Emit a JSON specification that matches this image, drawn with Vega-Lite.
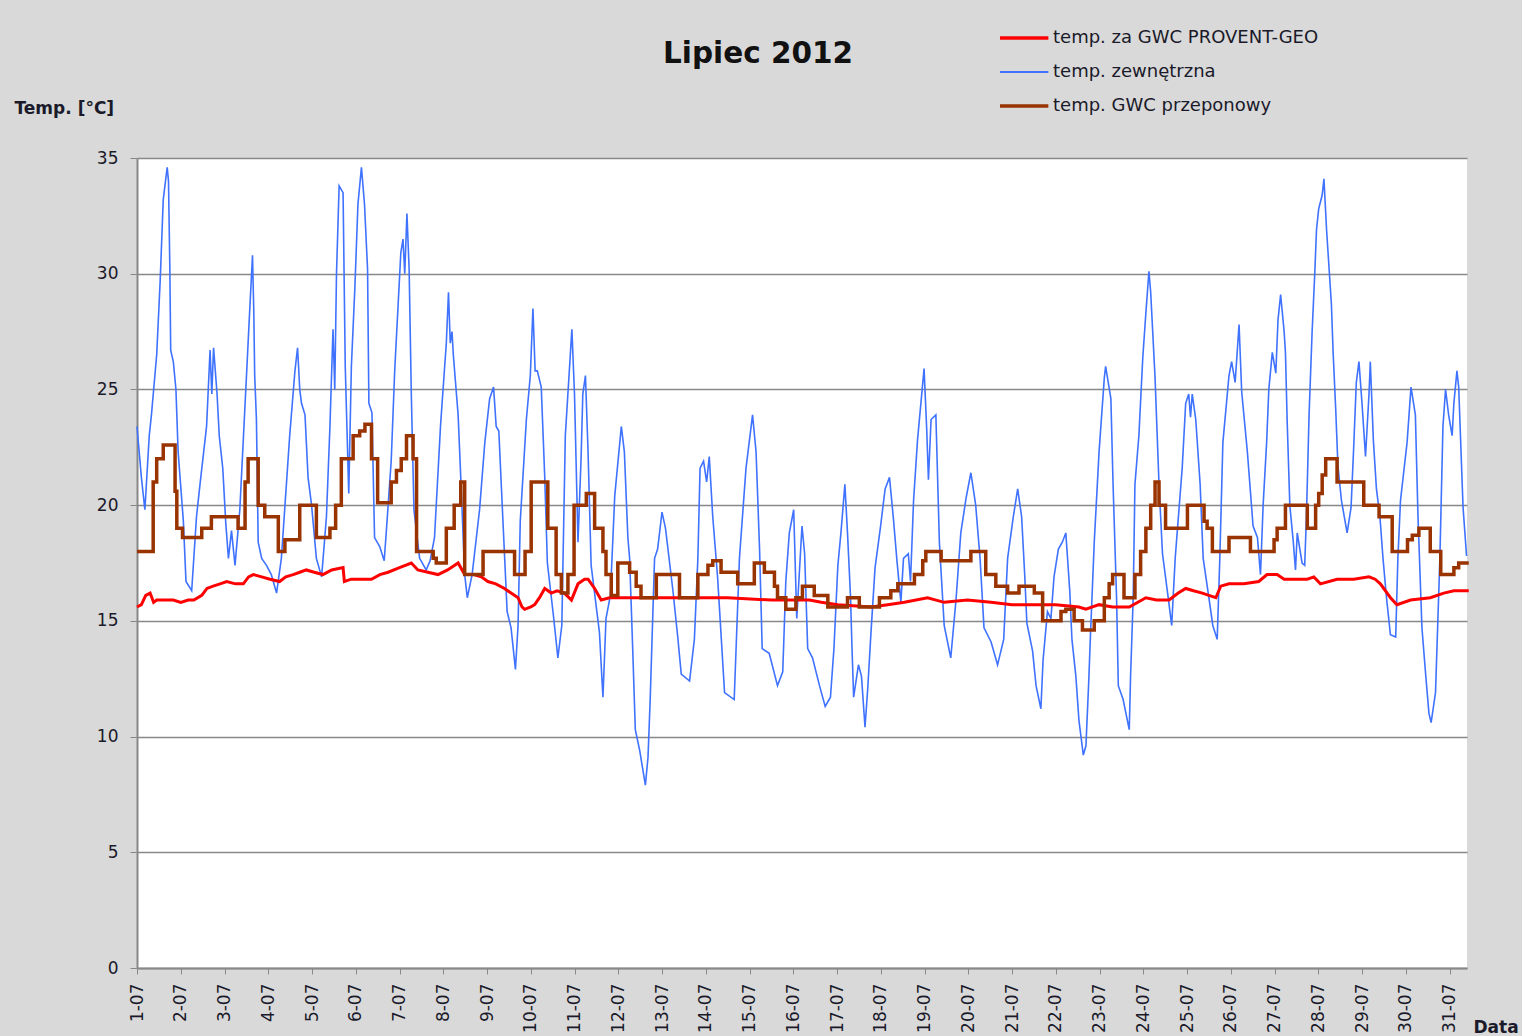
{
  "$schema": "https://vega.github.io/schema/vega-lite/v6.json",
  "autosize": "none",
  "width": 1330,
  "height": 810,
  "padding": {"left": 137, "top": 158, "right": 55, "bottom": 68},
  "background": "#d9d9d9",
  "config": {
    "view": {"fill": "white", "stroke": null},
    "font": "DejaVu Sans"
  },
  "title": {
    "text": "Lipiec 2012",
    "fontSize": 29.5,
    "fontWeight": "bold",
    "font": "DejaVu Sans",
    "color": "#111111",
    "anchor": "middle",
    "frame": "group",
    "dx": -44,
    "offset": -41
  },
  "datasets": {
    "blue": [
      {"d":1.00,"t":23.4},{"d":1.10,"t":21.2},{"d":1.18,"t":19.8},{"d":1.28,"t":23.0},{"d":1.33,"t":23.9},{"d":1.45,"t":26.5},{"d":1.53,"t":29.7},{"d":1.60,"t":33.2},{"d":1.69,"t":34.6},{"d":1.72,"t":34.0},{"d":1.75,"t":30.3},{"d":1.77,"t":26.7},{"d":1.83,"t":26.2},{"d":1.89,"t":25.0},{"d":1.94,"t":22.3},
      {"d":2.06,"t":19.3},{"d":2.12,"t":16.7},{"d":2.25,"t":16.3},{"d":2.36,"t":19.5},{"d":2.44,"t":20.9},{"d":2.59,"t":23.4},{"d":2.67,"t":26.7},{"d":2.71,"t":24.8},{"d":2.75,"t":26.8},{"d":2.83,"t":24.8},{"d":2.88,"t":23.0},{"d":2.96,"t":21.6},
      {"d":3.03,"t":19.2},{"d":3.09,"t":17.7},{"d":3.16,"t":18.9},{"d":3.24,"t":17.4},{"d":3.35,"t":19.8},{"d":3.50,"t":25.5},{"d":3.56,"t":27.8},{"d":3.64,"t":30.8},{"d":3.67,"t":28.3},{"d":3.69,"t":25.6},{"d":3.73,"t":23.7},{"d":3.77,"t":18.4},{"d":3.85,"t":17.7},{"d":3.96,"t":17.4},
      {"d":4.07,"t":17.0},{"d":4.19,"t":16.2},{"d":4.30,"t":17.7},{"d":4.49,"t":23.0},{"d":4.61,"t":25.8},{"d":4.67,"t":26.8},{"d":4.72,"t":25.0},{"d":4.76,"t":24.4},{"d":4.84,"t":23.9},{"d":4.91,"t":21.2},{"d":4.99,"t":20.0},
      {"d":5.10,"t":17.7},{"d":5.22,"t":16.9},{"d":5.33,"t":19.5},{"d":5.41,"t":23.4},{"d":5.48,"t":27.6},{"d":5.52,"t":25.0},{"d":5.56,"t":30.0},{"d":5.62,"t":33.8},{"d":5.71,"t":33.5},{"d":5.76,"t":26.0},{"d":5.84,"t":20.5},{"d":5.90,"t":26.0},{"d":5.98,"t":29.4},
      {"d":6.05,"t":33.0},{"d":6.13,"t":34.6},{"d":6.20,"t":33.0},{"d":6.27,"t":30.2},{"d":6.30,"t":24.4},{"d":6.37,"t":24.0},{"d":6.43,"t":18.6},{"d":6.55,"t":18.2},{"d":6.65,"t":17.6},{"d":6.70,"t":18.9},{"d":6.81,"t":21.9},{"d":6.89,"t":25.8},
      {"d":7.03,"t":30.9},{"d":7.08,"t":31.5},{"d":7.12,"t":30.0},{"d":7.17,"t":32.6},{"d":7.22,"t":30.2},{"d":7.27,"t":24.8},{"d":7.33,"t":19.8},{"d":7.46,"t":17.7},{"d":7.61,"t":17.2},{"d":7.70,"t":17.6},{"d":7.80,"t":18.6},{"d":7.94,"t":23.5},
      {"d":8.07,"t":27.0},{"d":8.12,"t":29.2},{"d":8.16,"t":27.0},{"d":8.20,"t":27.5},{"d":8.23,"t":26.5},{"d":8.34,"t":23.9},{"d":8.40,"t":21.2},{"d":8.49,"t":17.0},{"d":8.55,"t":16.0},{"d":8.66,"t":17.0},{"d":8.83,"t":19.8},{"d":8.95,"t":22.7},
      {"d":9.06,"t":24.6},{"d":9.15,"t":25.1},{"d":9.21,"t":23.4},{"d":9.27,"t":23.2},{"d":9.36,"t":19.5},{"d":9.46,"t":15.4},{"d":9.55,"t":14.7},{"d":9.65,"t":12.9},{"d":9.71,"t":14.8},{"d":9.76,"t":19.3},{"d":9.90,"t":23.7},{"d":9.99,"t":25.6},
      {"d":10.05,"t":28.5},{"d":10.10,"t":25.8},{"d":10.15,"t":25.8},{"d":10.24,"t":25.1},{"d":10.32,"t":21.2},{"d":10.38,"t":17.5},{"d":10.52,"t":15.2},{"d":10.62,"t":13.4},{"d":10.71,"t":14.8},{"d":10.79,"t":23.0},{"d":10.94,"t":27.6},
      {"d":11.00,"t":24.8},{"d":11.08,"t":18.4},{"d":11.15,"t":22.0},{"d":11.19,"t":24.8},{"d":11.25,"t":25.6},{"d":11.31,"t":22.3},{"d":11.38,"t":17.4},{"d":11.57,"t":14.5},{"d":11.65,"t":11.7},{"d":11.72,"t":15.1},{"d":11.82,"t":16.1},{"d":11.92,"t":20.4},
      {"d":12.07,"t":23.4},{"d":12.14,"t":22.3},{"d":12.22,"t":18.6},{"d":12.26,"t":17.7},{"d":12.33,"t":13.8},{"d":12.39,"t":10.3},{"d":12.49,"t":9.4},{"d":12.62,"t":7.9},{"d":12.68,"t":9.1},{"d":12.73,"t":11.6},{"d":12.83,"t":17.7},{"d":12.90,"t":18.1},
      {"d":13.00,"t":19.7},{"d":13.08,"t":19.0},{"d":13.25,"t":16.3},{"d":13.36,"t":14.3},{"d":13.44,"t":12.7},{"d":13.63,"t":12.4},{"d":13.74,"t":14.2},{"d":13.82,"t":17.7},{"d":13.87,"t":21.6},{"d":13.95,"t":21.9},
      {"d":14.02,"t":21.0},{"d":14.08,"t":22.1},{"d":14.16,"t":19.5},{"d":14.27,"t":16.9},{"d":14.43,"t":11.9},{"d":14.65,"t":11.6},{"d":14.77,"t":17.7},{"d":14.92,"t":21.6},
      {"d":15.07,"t":23.9},{"d":15.15,"t":22.3},{"d":15.23,"t":18.1},{"d":15.29,"t":13.8},{"d":15.45,"t":13.6},{"d":15.64,"t":12.2},{"d":15.76,"t":12.8},{"d":15.83,"t":16.7},{"d":15.91,"t":18.8},
      {"d":16.01,"t":19.8},{"d":16.08,"t":15.1},{"d":16.20,"t":19.1},{"d":16.26,"t":17.9},{"d":16.33,"t":13.8},{"d":16.44,"t":13.4},{"d":16.60,"t":12.2},{"d":16.73,"t":11.3},{"d":16.85,"t":11.7},{"d":16.93,"t":13.8},
      {"d":17.02,"t":17.4},{"d":17.09,"t":18.8},{"d":17.18,"t":20.9},{"d":17.24,"t":18.8},{"d":17.31,"t":16.0},{"d":17.34,"t":14.0},{"d":17.38,"t":11.7},{"d":17.49,"t":13.1},{"d":17.56,"t":12.6},{"d":17.64,"t":10.4},{"d":17.70,"t":12.0},{"d":17.78,"t":14.6},{"d":17.87,"t":17.3},{"d":17.99,"t":19.0},
      {"d":18.10,"t":20.7},{"d":18.20,"t":21.2},{"d":18.29,"t":19.4},{"d":18.37,"t":17.6},{"d":18.46,"t":15.8},{"d":18.52,"t":17.7},{"d":18.63,"t":17.9},{"d":18.68,"t":16.7},{"d":18.75,"t":20.2},{"d":18.84,"t":22.8},{"d":18.99,"t":25.9},
      {"d":19.05,"t":23.3},{"d":19.09,"t":21.1},{"d":19.15,"t":23.7},{"d":19.26,"t":23.9},{"d":19.34,"t":18.4},{"d":19.45,"t":14.8},{"d":19.60,"t":13.4},{"d":19.72,"t":15.9},{"d":19.83,"t":18.8},{"d":19.95,"t":20.3},
      {"d":20.06,"t":21.4},{"d":20.17,"t":20.0},{"d":20.27,"t":17.7},{"d":20.36,"t":14.7},{"d":20.52,"t":14.1},{"d":20.67,"t":13.1},{"d":20.81,"t":14.2},{"d":20.90,"t":17.7},
      {"d":21.03,"t":19.5},{"d":21.13,"t":20.7},{"d":21.22,"t":19.5},{"d":21.29,"t":17.0},{"d":21.34,"t":14.9},{"d":21.47,"t":13.7},{"d":21.55,"t":12.2},{"d":21.66,"t":11.2},{"d":21.71,"t":13.3},{"d":21.81,"t":15.4},{"d":21.89,"t":15.1},{"d":21.96,"t":16.9},
      {"d":22.06,"t":18.1},{"d":22.15,"t":18.4},{"d":22.23,"t":18.8},{"d":22.32,"t":16.3},{"d":22.37,"t":14.2},{"d":22.46,"t":12.6},{"d":22.53,"t":10.7},{"d":22.63,"t":9.2},{"d":22.69,"t":9.6},{"d":22.75,"t":12.2},{"d":22.80,"t":14.7},{"d":22.88,"t":18.4},{"d":22.99,"t":22.3},
      {"d":23.11,"t":25.5},{"d":23.14,"t":26.0},{"d":23.26,"t":24.6},{"d":23.31,"t":20.9},{"d":23.39,"t":16.0},{"d":23.43,"t":12.2},{"d":23.54,"t":11.6},{"d":23.68,"t":10.3},{"d":23.71,"t":12.6},{"d":23.77,"t":16.0},{"d":23.81,"t":20.9},{"d":23.90,"t":23.0},{"d":23.99,"t":26.4},
      {"d":24.06,"t":28.3},{"d":24.13,"t":30.1},{"d":24.17,"t":29.2},{"d":24.27,"t":25.5},{"d":24.36,"t":20.9},{"d":24.44,"t":17.9},{"d":24.57,"t":16.0},{"d":24.65,"t":14.8},{"d":24.73,"t":17.7},{"d":24.89,"t":21.6},{"d":24.97,"t":24.4},
      {"d":25.04,"t":24.8},{"d":25.08,"t":23.8},{"d":25.12,"t":24.8},{"d":25.20,"t":23.7},{"d":25.30,"t":20.9},{"d":25.37,"t":17.7},{"d":25.50,"t":16.0},{"d":25.59,"t":14.8},{"d":25.69,"t":14.2},{"d":25.75,"t":17.7},{"d":25.82,"t":22.7},{"d":25.96,"t":25.6},
      {"d":26.02,"t":26.2},{"d":26.10,"t":25.3},{"d":26.19,"t":27.8},{"d":26.25,"t":24.9},{"d":26.38,"t":22.3},{"d":26.51,"t":19.1},{"d":26.61,"t":18.6},{"d":26.68,"t":17.0},{"d":26.74,"t":20.0},{"d":26.82,"t":22.7},{"d":26.87,"t":25.0},{"d":26.95,"t":26.6},
      {"d":27.03,"t":25.7},{"d":27.08,"t":28.0},{"d":27.14,"t":29.1},{"d":27.22,"t":27.5},{"d":27.25,"t":26.6},{"d":27.29,"t":23.6},{"d":27.35,"t":20.0},{"d":27.43,"t":18.4},{"d":27.48,"t":17.2},{"d":27.52,"t":18.8},{"d":27.63,"t":17.5},{"d":27.69,"t":17.4},{"d":27.73,"t":19.5},{"d":27.79,"t":23.9},{"d":27.86,"t":27.5},{"d":27.92,"t":30.0},{"d":27.96,"t":31.9},
      {"d":28.01,"t":32.8},{"d":28.09,"t":33.4},{"d":28.13,"t":34.1},{"d":28.19,"t":31.9},{"d":28.30,"t":28.7},{"d":28.34,"t":26.6},{"d":28.40,"t":24.1},{"d":28.45,"t":21.7},{"d":28.53,"t":20.2},{"d":28.66,"t":18.8},{"d":28.75,"t":19.9},{"d":28.81,"t":22.5},{"d":28.87,"t":25.3},{"d":28.93,"t":26.2},
      {"d":29.00,"t":24.4},{"d":29.08,"t":22.1},{"d":29.16,"t":24.8},{"d":29.19,"t":26.2},{"d":29.26,"t":22.8},{"d":29.33,"t":20.7},{"d":29.41,"t":19.5},{"d":29.48,"t":17.7},{"d":29.56,"t":16.0},{"d":29.65,"t":14.4},{"d":29.77,"t":14.3},{"d":29.82,"t":17.7},{"d":29.88,"t":20.2},
      {"d":30.03,"t":22.7},{"d":30.12,"t":25.1},{"d":30.22,"t":23.9},{"d":30.28,"t":19.5},{"d":30.37,"t":14.7},{"d":30.45,"t":12.8},{"d":30.53,"t":11.0},{"d":30.58,"t":10.6},{"d":30.68,"t":11.9},{"d":30.78,"t":17.7},{"d":30.85,"t":23.4},{"d":30.91,"t":25.0},{"d":30.98,"t":23.9},
      {"d":31.06,"t":23.0},{"d":31.10,"t":24.4},{"d":31.17,"t":25.8},{"d":31.21,"t":25.1},{"d":31.31,"t":19.9},{"d":31.39,"t":17.8}
    ],
    "red": [
      {"d":1.00,"t":15.6},{"d":1.10,"t":15.7},{"d":1.20,"t":16.1},{"d":1.30,"t":16.2},{"d":1.38,"t":15.8},{"d":1.45,"t":15.9},{"d":1.60,"t":15.9},{"d":1.83,"t":15.9},{"d":2.00,"t":15.8},{"d":2.17,"t":15.9},{"d":2.30,"t":15.9},{"d":2.48,"t":16.1},{"d":2.60,"t":16.4},{"d":2.74,"t":16.5},{"d":2.90,"t":16.6},
      {"d":3.05,"t":16.7},{"d":3.25,"t":16.6},{"d":3.43,"t":16.6},{"d":3.55,"t":16.9},{"d":3.66,"t":17.0},{"d":3.85,"t":16.9},{"d":4.04,"t":16.8},{"d":4.26,"t":16.7},{"d":4.40,"t":16.9},{"d":4.57,"t":17.0},{"d":4.72,"t":17.1},{"d":4.87,"t":17.2},{"d":5.05,"t":17.1},{"d":5.25,"t":17.0},{"d":5.45,"t":17.2},{"d":5.71,"t":17.3},{"d":5.74,"t":16.7},{"d":5.90,"t":16.8},
      {"d":6.09,"t":16.8},{"d":6.36,"t":16.8},{"d":6.55,"t":17.0},{"d":6.74,"t":17.1},{"d":7.00,"t":17.3},{"d":7.27,"t":17.5},{"d":7.42,"t":17.2},{"d":7.65,"t":17.1},{"d":7.88,"t":17.0},{"d":8.10,"t":17.2},{"d":8.34,"t":17.5},{"d":8.49,"t":17.0},{"d":8.70,"t":17.0},{"d":8.87,"t":16.9},
      {"d":9.02,"t":16.7},{"d":9.20,"t":16.6},{"d":9.40,"t":16.4},{"d":9.55,"t":16.2},{"d":9.71,"t":16.0},{"d":9.80,"t":15.6},{"d":9.86,"t":15.5},{"d":10.00,"t":15.6},{"d":10.09,"t":15.7},{"d":10.20,"t":16.0},{"d":10.32,"t":16.4},{"d":10.47,"t":16.2},{"d":10.60,"t":16.3},{"d":10.77,"t":16.2},{"d":10.93,"t":15.9},
      {"d":11.08,"t":16.6},{"d":11.23,"t":16.8},{"d":11.31,"t":16.8},{"d":11.46,"t":16.4},{"d":11.61,"t":15.9},{"d":11.80,"t":16.0},{"d":12.50,"t":16.0},{"d":13.50,"t":16.0},{"d":14.50,"t":16.0},{"d":15.50,"t":15.9},{"d":16.37,"t":15.9},{"d":16.64,"t":15.8},
      {"d":17.02,"t":15.7},{"d":17.78,"t":15.6},{"d":18.16,"t":15.7},{"d":18.54,"t":15.8},{"d":19.07,"t":16.0},{"d":19.45,"t":15.8},{"d":19.98,"t":15.9},{"d":20.52,"t":15.8},{"d":21.00,"t":15.7},{"d":21.51,"t":15.7},{"d":22.00,"t":15.7},{"d":22.53,"t":15.6},{"d":22.69,"t":15.5},{"d":22.99,"t":15.7},
      {"d":23.30,"t":15.6},{"d":23.68,"t":15.6},{"d":24.06,"t":16.0},{"d":24.30,"t":15.9},{"d":24.59,"t":15.9},{"d":24.80,"t":16.2},{"d":24.97,"t":16.4},{"d":25.15,"t":16.3},{"d":25.35,"t":16.2},{"d":25.50,"t":16.1},{"d":25.66,"t":16.0},{"d":25.77,"t":16.5},{"d":25.96,"t":16.6},
      {"d":26.30,"t":16.6},{"d":26.64,"t":16.7},{"d":26.83,"t":17.0},{"d":27.06,"t":17.0},{"d":27.22,"t":16.8},{"d":27.50,"t":16.8},{"d":27.75,"t":16.8},{"d":27.90,"t":16.9},{"d":28.05,"t":16.6},{"d":28.43,"t":16.8},{"d":28.81,"t":16.8},
      {"d":29.16,"t":16.9},{"d":29.30,"t":16.8},{"d":29.42,"t":16.6},{"d":29.65,"t":16.0},{"d":29.80,"t":15.7},{"d":30.11,"t":15.9},{"d":30.56,"t":16.0},{"d":30.87,"t":16.2},{"d":31.10,"t":16.3},{"d":31.44,"t":16.3}
    ],
    "brown": [
      {"d":1.00,"t":18.0},{"d":1.37,"t":21.0},{"d":1.45,"t":22.0},{"d":1.60,"t":22.6},{"d":1.87,"t":20.6},{"d":1.91,"t":19.0},{"d":2.04,"t":18.6},{"d":2.48,"t":19.0},{"d":2.70,"t":19.5},{"d":3.31,"t":19.0},{"d":3.47,"t":21.0},{"d":3.54,"t":22.0},{"d":3.77,"t":20.0},{"d":3.92,"t":19.5},
      {"d":4.23,"t":18.0},{"d":4.38,"t":18.5},{"d":4.72,"t":20.0},{"d":5.10,"t":18.6},{"d":5.41,"t":19.0},{"d":5.54,"t":20.0},{"d":5.67,"t":22.0},{"d":5.94,"t":23.0},{"d":6.09,"t":23.2},{"d":6.21,"t":23.5},{"d":6.36,"t":22.0},{"d":6.50,"t":20.1},{"d":6.81,"t":21.0},{"d":6.93,"t":21.5},
      {"d":7.04,"t":22.0},{"d":7.16,"t":23.0},{"d":7.31,"t":22.0},{"d":7.39,"t":18.0},{"d":7.77,"t":17.7},{"d":7.84,"t":17.5},{"d":8.07,"t":19.0},{"d":8.25,"t":20.0},{"d":8.40,"t":21.0},{"d":8.49,"t":17.0},{"d":8.91,"t":18.0},{"d":9.63,"t":17.0},{"d":9.87,"t":18.0},
      {"d":10.01,"t":21.0},{"d":10.39,"t":19.0},{"d":10.58,"t":17.0},{"d":10.70,"t":16.2},{"d":10.85,"t":17.0},{"d":10.99,"t":20.0},{"d":11.27,"t":20.5},{"d":11.46,"t":19.0},{"d":11.65,"t":18.0},{"d":11.72,"t":17.0},{"d":11.84,"t":16.1},{"d":11.99,"t":17.5},
      {"d":12.26,"t":17.1},{"d":12.41,"t":16.5},{"d":12.52,"t":16.0},{"d":12.87,"t":17.0},{"d":13.40,"t":16.0},{"d":13.82,"t":17.0},{"d":14.05,"t":17.4},{"d":14.16,"t":17.6},{"d":14.35,"t":17.1},{"d":14.73,"t":16.6},{"d":15.11,"t":17.5},{"d":15.34,"t":17.1},{"d":15.57,"t":16.5},{"d":15.64,"t":16.0},{"d":15.83,"t":15.5},
      {"d":16.06,"t":16.0},{"d":16.21,"t":16.5},{"d":16.48,"t":16.1},{"d":16.79,"t":15.6},{"d":17.24,"t":16.0},{"d":17.51,"t":15.6},{"d":17.97,"t":16.0},{"d":18.23,"t":16.3},{"d":18.39,"t":16.6},{"d":18.77,"t":17.0},{"d":18.96,"t":17.6},{"d":19.03,"t":18.0},{"d":19.38,"t":17.6},
      {"d":20.06,"t":18.0},{"d":20.40,"t":17.0},{"d":20.63,"t":16.5},{"d":20.90,"t":16.2},{"d":21.16,"t":16.5},{"d":21.51,"t":16.2},{"d":21.70,"t":15.0},{"d":22.12,"t":15.4},{"d":22.23,"t":15.5},{"d":22.42,"t":15.0},{"d":22.61,"t":14.6},{"d":22.88,"t":15.0},
      {"d":23.11,"t":16.0},{"d":23.22,"t":16.6},{"d":23.30,"t":17.0},{"d":23.56,"t":16.0},{"d":23.81,"t":17.0},{"d":23.94,"t":18.0},{"d":24.06,"t":19.0},{"d":24.17,"t":20.0},{"d":24.27,"t":21.0},{"d":24.36,"t":20.0},{"d":24.51,"t":19.0},
      {"d":25.01,"t":20.0},{"d":25.39,"t":19.3},{"d":25.46,"t":19.0},{"d":25.58,"t":18.0},{"d":25.96,"t":18.6},{"d":26.45,"t":18.0},{"d":26.99,"t":18.5},{"d":27.06,"t":19.0},{"d":27.25,"t":20.0},{"d":27.75,"t":19.0},{"d":27.94,"t":20.0},
      {"d":28.01,"t":20.5},{"d":28.09,"t":21.3},{"d":28.17,"t":22.0},{"d":28.43,"t":21.0},{"d":29.04,"t":20.0},{"d":29.39,"t":19.5},{"d":29.69,"t":18.0},{"d":30.04,"t":18.5},{"d":30.15,"t":18.7},{"d":30.30,"t":19.0},{"d":30.56,"t":18.0},{"d":30.80,"t":17.0},
      {"d":31.10,"t":17.3},{"d":31.21,"t":17.5},{"d":31.44,"t":17.5}
    ]
  },
  "encoding": {
    "x": {
      "field": "d",
      "type": "quantitative",
      "scale": {"domain": [1, 31.4], "nice": false, "zero": false},
      "axis": {
        "title": "Data",
        "titleFontSize": 17,
        "titleFontWeight": "bold",
        "titleColor": "#1a1a2a",
        "titleAlign": "left",
        "titleBaseline": "middle",
        "titleAngle": 0,
        "titleX": 1336,
        "titleY": 59,
        "values": [1,2,3,4,5,6,7,8,9,10,11,12,13,14,15,16,17,18,19,20,21,22,23,24,25,26,27,28,29,30,31],
        "labelExpr": "datum.value + '-07'",
        "labelAngle": 270,
        "labelFontSize": 17,
        "labelColor": "#1a1a2a",
        "labelPadding": 9,
        "labelOverlap": false,
        "labelBound": false,
        "labelFlush": false,
        "tickColor": "#888888",
        "tickSize": 6,
        "domainColor": "#888888",
        "domainWidth": 2,
        "grid": false
      }
    },
    "y": {
      "field": "t",
      "type": "quantitative",
      "scale": {"domain": [0, 35], "nice": false},
      "axis": {
        "title": "Temp. [°C]",
        "titleFontSize": 17,
        "titleFontWeight": "bold",
        "titleColor": "#1a1a2a",
        "titleAngle": 0,
        "titleAlign": "left",
        "titleBaseline": "middle",
        "titleX": -123,
        "titleY": -50,
        "values": [0,5,10,15,20,25,30,35],
        "labelFontSize": 17,
        "labelColor": "#1a1a2a",
        "labelPadding": 12,
        "tickColor": "#888888",
        "tickSize": 7,
        "domainColor": "#888888",
        "domainWidth": 2,
        "grid": true,
        "gridColor": "#888888",
        "gridWidth": 1.5
      }
    },
    "color": {
      "type": "nominal",
      "scale": {
        "domain": ["temp. za GWC PROVENT-GEO", "temp. zewnętrzna", "temp. GWC przeponowy"],
        "range": ["#ff0000", "#3f72ff", "#993300"]
      },
      "legend": {
        "title": null,
        "orient": "none",
        "legendX": 863,
        "legendY": -130,
        "symbolType": "stroke",
        "symbolSize": 6200,
        "symbolStrokeWidth": 3.5,
        "labelFontSize": 18,
        "labelColor": "#1a1a2a",
        "labelOffset": 35,
        "labelLimit": 500,
        "clipHeight": 20,
        "rowPadding": 14,
        "encode": {
          "symbols": {
            "update": {
              "strokeWidth": {"signal": "datum.value === 'temp. zewnętrzna' ? 2 : 3.5"}
            }
          }
        }
      }
    }
  },
  "layer": [
    {
      "data": {"name": "blue"},
      "mark": {"type": "line", "strokeWidth": 1.6},
      "encoding": {"color": {"datum": "temp. zewnętrzna"}}
    },
    {
      "data": {"name": "red"},
      "mark": {"type": "line", "strokeWidth": 3},
      "encoding": {"color": {"datum": "temp. za GWC PROVENT-GEO"}}
    },
    {
      "data": {"name": "brown"},
      "mark": {"type": "line", "strokeWidth": 3.5, "interpolate": "step-after"},
      "encoding": {"color": {"datum": "temp. GWC przeponowy"}}
    }
  ]
}
